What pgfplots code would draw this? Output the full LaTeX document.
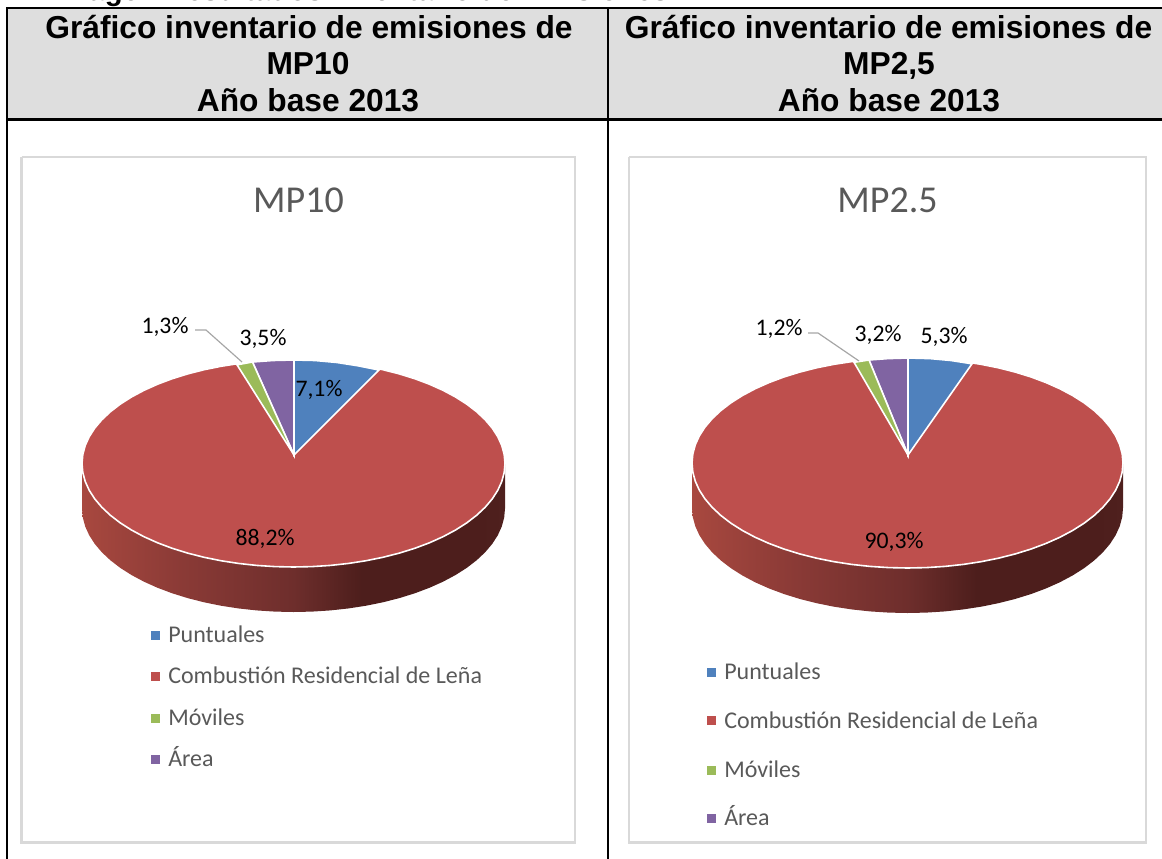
\documentclass[border=0pt]{standalone}
\usepackage{pgfplots}
\usepackage{pgfplotstable}
\usepackage{fontspec}
\pgfplotsset{compat=1.18}
\setmainfont{Liberation Sans}
\newfontfamily\calibri{Carlito}
\definecolor{cblue}{HTML}{4F81BD}
\definecolor{cred}{HTML}{BE4F4D}
\definecolor{cgreen}{HTML}{9BBB59}
\definecolor{cpurple}{HTML}{8064A2}
\definecolor{ctxt}{HTML}{595959}
\definecolor{cframe}{HTML}{D9D9D9}
\definecolor{chead}{HTML}{DEDEDE}
\definecolor{wa}{HTML}{A8483F}
\definecolor{wb}{HTML}{8A3A36}
\definecolor{wc}{HTML}{6E2E2C}
\definecolor{wd}{HTML}{4D1E1C}
\definecolor{we}{HTML}{4F201E}
\pgfdeclarehorizontalshading{wall}{100bp}{color(0bp)=(wa); color(25bp)=(wa); color(37bp)=(wb); color(50bp)=(wc); color(58bp)=(wd); color(72bp)=(wd); color(75bp)=(we); color(100bp)=(we)}
% unit circle, every 5 degrees: cosine, sine
\pgfplotstableread{
c s
1 0
.9962 .0872
.9848 .1736
.9659 .2588
.9397 .3420
.9063 .4226
.8660 .5
.8192 .5736
.7660 .6428
.7071 .7071
.6428 .7660
.5736 .8192
.5 .8660
.4226 .9063
.3420 .9397
.2588 .9659
.1736 .9848
.0872 .9962
0 1
-.0872 .9962
-.1736 .9848
-.2588 .9659
-.3420 .9397
-.4226 .9063
-.5 .8660
-.5736 .8192
-.6428 .7660
-.7071 .7071
-.7660 .6428
-.8192 .5736
-.8660 .5
-.9063 .4226
-.9397 .3420
-.9659 .2588
-.9848 .1736
-.9962 .0872
-1 0
-.9962 -.0872
-.9848 -.1736
-.9659 -.2588
-.9397 -.3420
-.9063 -.4226
-.8660 -.5
-.8192 -.5736
-.7660 -.6428
-.7071 -.7071
-.6428 -.7660
-.5736 -.8192
-.5 -.8660
-.4226 -.9063
-.3420 -.9397
-.2588 -.9659
-.1736 -.9848
-.0872 -.9962
0 -1
.0872 -.9962
.1736 -.9848
.2588 -.9659
.3420 -.9397
.4226 -.9063
.5 -.8660
.5736 -.8192
.6428 -.7660
.7071 -.7071
.7660 -.6428
.8192 -.5736
.8660 -.5
.9063 -.4226
.9397 -.3420
.9659 -.2588
.9848 -.1736
.9962 -.0872
1 0
}\ucircle
% side wall: lower half, d = 1 on the lower rim
\pgfplotstableread{
c s d
-1 0 0
-1 0 1
-.9962 -.0872 1
-.9848 -.1736 1
-.9659 -.2588 1
-.9397 -.3420 1
-.9063 -.4226 1
-.8660 -.5 1
-.8192 -.5736 1
-.7660 -.6428 1
-.7071 -.7071 1
-.6428 -.7660 1
-.5736 -.8192 1
-.5 -.8660 1
-.4226 -.9063 1
-.3420 -.9397 1
-.2588 -.9659 1
-.1736 -.9848 1
-.0872 -.9962 1
0 -1 1
.0872 -.9962 1
.1736 -.9848 1
.2588 -.9659 1
.3420 -.9397 1
.4226 -.9063 1
.5 -.8660 1
.5736 -.8192 1
.6428 -.7660 1
.7071 -.7071 1
.7660 -.6428 1
.8192 -.5736 1
.8660 -.5 1
.9063 -.4226 1
.9397 -.3420 1
.9659 -.2588 1
.9848 -.1736 1
.9962 -.0872 1
1 0 1
1 0 0
}\uwall
\newcommand{\headtxt}[3]{\node[anchor=base,inner sep=0pt,text=black] at (axis cs:#1,#2) {\fontsize{23.8}{28}\selectfont\bfseries #3};}
\newcommand{\lab}[3]{\node[anchor=center,inner sep=0pt,text=black] at (axis cs:#1,#2) {\calibri\fontsize{17.8}{21}\selectfont #3};}
\newcommand{\legt}[3]{\node[anchor=base west,inner sep=0pt,text=ctxt] at (axis cs:#1,#2) {\calibri\fontsize{18}{22}\selectfont #3};}
\begin{document}
\begin{tikzpicture}
\path[use as bounding box] (0,0) rectangle (871.5pt,644.25pt);
\clip (0,0) rectangle (871.5pt,644.25pt);
\begin{axis}[at={(0,0)},anchor=south west,scale only axis,width=871.5pt,height=644.25pt,
  xmin=0,xmax=1162,ymin=0,ymax=859,y dir=reverse,axis lines=none,clip=false]
% table
\addplot[fill=chead,draw=none] coordinates {(7,8) (1162,8) (1162,119.5) (7,119.5)} -- cycle;
\addplot[black,line width=1.9pt] coordinates {(1162,8) (7,8) (7,859)};
\addplot[black,line width=1.9pt] coordinates {(7,119.5) (1162,119.5)};
\addplot[black,line width=1.9pt] coordinates {(608,8) (608,859)};
% chart frames
\addplot[cframe,line width=1.6pt] coordinates {(21.5,157) (575,157) (575,842.5) (21.5,842.5) (21.5,157)};
\addplot[cframe,line width=1.6pt] coordinates {(629,157) (1146,157) (1146,842.5) (629,842.5) (629,157)};
% left pie
\addplot[draw=none,shading=wall] table[x expr={293.5+211.5*\thisrow{c}},y expr={463.5-103.5*\thisrow{s}+45*\thisrow{d}}] {\uwall} -- cycle;
\addplot[fill=cred,draw=white,line width=1.2pt] table[x expr={293.5+211.5*\thisrow{c}},y expr={463.5-103.5*\thisrow{s}}] {\ucircle} -- cycle;
\addplot[fill=cblue,draw=white,line width=1.2pt] coordinates {(294,455) (294,360) (315,360.5) (337,362.5) (358,365.8) (379,370)} -- cycle;
\addplot[fill=cpurple,draw=white,line width=1.2pt] coordinates {(294,455) (294,360) (273,360.5) (252.5,362)} -- cycle;
\addplot[fill=cgreen,draw=white,line width=1.2pt] coordinates {(294,455) (252.5,362) (237,364.8)} -- cycle;
\addplot[color=black!35,line width=.9pt] coordinates {(195,330) (206,330) (242,362)};
% right pie
\addplot[draw=none,shading=wall] table[x expr={907.5+215.5*\thisrow{c}},y expr={463-105*\thisrow{s}+45*\thisrow{d}}] {\uwall} -- cycle;
\addplot[fill=cred,draw=white,line width=1.2pt] table[x expr={907.5+215.5*\thisrow{c}},y expr={463-105*\thisrow{s}}] {\ucircle} -- cycle;
\addplot[fill=cblue,draw=white,line width=1.2pt] coordinates {(908,455) (908,358) (930,358.6) (951,360.5) (972,363.8)} -- cycle;
\addplot[fill=cpurple,draw=white,line width=1.2pt] coordinates {(908,455) (908,358) (888,358.6) (869,360)} -- cycle;
\addplot[fill=cgreen,draw=white,line width=1.2pt] coordinates {(908,455) (869,360) (854,362.3)} -- cycle;
\addplot[color=black!35,line width=.9pt] coordinates {(808,333) (818,333) (859,361)};
% legends
\addplot[only marks,mark=square*,mark size=2.9pt,cblue,mark options={draw=none,fill=cblue}] coordinates {(155,635) (711.5,672)};
\addplot[only marks,mark=square*,mark size=2.9pt,cred,mark options={draw=none,fill=cred}] coordinates {(155,676) (711.5,720)};
\addplot[only marks,mark=square*,mark size=2.9pt,cgreen,mark options={draw=none,fill=cgreen}] coordinates {(155,718) (711.5,770)};
\addplot[only marks,mark=square*,mark size=2.9pt,cpurple,mark options={draw=none,fill=cpurple}] coordinates {(155,759) (711.5,818)};
% text
\node[anchor=base west,inner sep=0pt] at (axis cs:54,1) {\fontsize{22}{26}\selectfont\bfseries Imagen Resultados Inventario de Emisiones};
\headtxt{309}{38.5}{Gráfico inventario de emisiones de}
\headtxt{308}{74.5}{MP10}
\headtxt{308}{111.5}{Año base 2013}
\headtxt{888.5}{38.5}{Gráfico inventario de emisiones de}
\headtxt{889}{74.5}{MP2,5}
\headtxt{889}{111.5}{Año base 2013}
\node[anchor=base,inner sep=0pt,text=ctxt] at (axis cs:298.5,213) {\calibri\fontsize{28.5}{34}\selectfont MP10};
\node[anchor=base,inner sep=0pt,text=ctxt] at (axis cs:887.5,213) {\calibri\fontsize{28.5}{34}\selectfont MP2.5};
\lab{165}{327}{1,3\%}
\lab{263}{339}{3,5\%}
\lab{319}{390}{7,1\%}
\lab{265}{539}{88,2\%}
\lab{779}{329}{1,2\%}
\lab{878}{335}{3,2\%}
\lab{944}{337}{5,3\%}
\lab{894}{542}{90,3\%}
\legt{168}{642.5}{Puntuales}
\legt{168}{683.5}{Combustión Residencial de Leña}
\legt{168}{725.5}{Móviles}
\legt{168}{766.5}{Área}
\legt{724}{679.5}{Puntuales}
\legt{724}{728.5}{Combustión Residencial de Leña}
\legt{724}{777.5}{Móviles}
\legt{724}{825.5}{Área}
\end{axis}
\end{tikzpicture}
\end{document}
